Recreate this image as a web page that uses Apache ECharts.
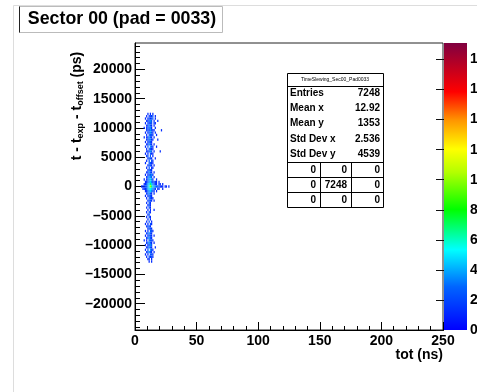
<!DOCTYPE html>
<html><head><meta charset="utf-8">
<script src="https://cdn.jsdelivr.net/npm/echarts@6/dist/echarts.min.js"></script>
<style>html,body{margin:0;padding:0;background:#fff}#c{width:477px;height:392px}</style>
</head><body><div id="c"></div>
<script>
// ---------- data ----------
const titleText = 'Sector 00 (pad = 0033)';
const xTitle = 'tot (ns)';
const xTicks = [0, 50, 100, 150, 200, 250];
const yTicks = [-20000, -15000, -10000, -5000, 0, 5000, 10000, 15000, 20000];
const zMax = 19.1;
const totStart = 4;      // tot (ns) of first column
const totStep = 1;       // ns per column
const yTop = 12400;      // y centre of first row (ps)
const yStep = 400;       // ps per row
// counts per cell (base-36 chars, '.' = 0), rows top to bottom, columns tot 4,5,6...
const cellRows = [
  "......1.1.1",
  ".....1.1212.1",
  "....1.12122.1",
  ".....11232.1..1",
  "....1.2122.11",
  ".....11321.1",
  "...1.12231..1",
  ".....1213211.....1",
  "....1.12321.1",
  ".....1.2221..1",
  "...1.11321.1",
  ".....122311...1",
  "....1.1221",
  ".....11321.1",
  "....1.2.321..1",
  ".....1.2211",
  ".....11232.1....1",
  "....1.1.211",
  ".....12.2.1",
  "......1221..1",
  ".....1.2.21",
  "....1..2211",
  "......1221.1",
  ".....1.2.11",
  "......1221",
  ".....11321.1",
  "....1.12231",
  ".....12332.1",
  "...1.123431..1",
  "....1123431211.1",
  "...11234643211.11.1",
  ".111223596433222111.11.1",
  "..11123454321.11..1",
  "....11234321.1",
  ".....12321.1",
  "....1.1221",
  ".....1.2211",
  "......1221.1",
  ".....1.21",
  "......121",
  ".....1.21",
  "......1.1..1",
  ".....1.21",
  "......12",
  ".....1.21",
  "......1.1",
  ".....1.2.1",
  "....1.1.21",
  ".....1221",
  "......1221",
  "....1.1.221",
  ".....12321",
  "....1.1221.1",
  ".....12321",
  "...1.1.2221",
  ".....12321.1",
  "....1.1232",
  ".....11321..1",
  "....1.2.321",
  ".....12321.1",
  "....1.1.221",
  ".....1.2121",
  "......11.1",
  ".......1.1"
];
const statsName = 'TimeSlewing_Sec00_Pad0033';
const statsLabels = ['Entries', 'Mean x', 'Mean y', 'Std Dev x', 'Std Dev y'];
const statsValues = ['7248', '12.92', '1353', '2.536', '4539'];
const overflowGrid = [['0', '0', '0'], ['0', '7248', '0'], ['0', '0', '0']];

// ---------- build ----------
const cells = [];
cellRows.forEach((row, i) => {
  for (let c = 0; c < row.length; c++) {
    const ch = row[c];
    if (ch === '.') continue;
    cells.push([totStart + c * totStep, yTop - i * yStep, parseInt(ch, 36)]);
  }
});

const FONT = '"Liberation Sans", Arial, Helvetica, sans-serif';
const paletteStops = [
  [0.00, '#0000ff'], [0.15, '#0064ff'], [0.28, '#00ffff'], [0.42, '#00ff00'],
  [0.55, '#b4ff00'], [0.63, '#ffff00'], [0.73, '#ff9600'], [0.83, '#ff0000'], [1.00, '#800040']
];
const minorY = [];
for (let v = -24000; v <= 24000; v += 1000) minorY.push(v);
const fmtNum = v => (v < 0 ? '\u2013' + Math.abs(v) : String(v));

const chart = echarts.init(document.getElementById('c'));

// stats box graphics
const SX = 287, SY = 73, SW = 96;
const statsEls = [];
statsEls.push({ type: 'rect', shape: { x: SX + 0.5, y: SY + 0.5, width: SW, height: 134 }, style: { fill: '#fff', stroke: '#000', lineWidth: 1 }, z: 100 });
statsEls.push({ type: 'text', x: SX + SW / 2, y: SY + 7, style: { text: statsName, font: '5px ' + FONT, fill: '#000', align: 'center', verticalAlign: 'middle' }, z: 101 });
statsEls.push({ type: 'line', shape: { x1: SX, y1: SY + 13.5, x2: SX + SW, y2: SY + 13.5 }, style: { stroke: '#000', lineWidth: 1 }, z: 101 });
const rowY = [93, 108, 123.5, 139, 154];
statsLabels.forEach((lab, k) => {
  statsEls.push({ type: 'text', x: SX + 3, y: rowY[k], style: { text: lab, font: 'bold 10px ' + FONT, fill: '#000', align: 'left', verticalAlign: 'middle' }, z: 101 });
  statsEls.push({ type: 'text', x: SX + SW - 3, y: rowY[k], style: { text: statsValues[k], font: 'bold 10px ' + FONT, fill: '#000', align: 'right', verticalAlign: 'middle' }, z: 101 });
});
const gLines = [162.5, 177.5, 192.5];
gLines.forEach(y => statsEls.push({ type: 'line', shape: { x1: SX, y1: y, x2: SX + SW, y2: y }, style: { stroke: '#000', lineWidth: 1 }, z: 101 }));
const colX = [320.5, 351.5];
colX.forEach(x => statsEls.push({ type: 'line', shape: { x1: x, y1: 162.5, x2: x, y2: 207.5 }, style: { stroke: '#000', lineWidth: 1 }, z: 101 }));
const cellRight = [316, 347, 380];
overflowGrid.forEach((r, ri) => r.forEach((t, ci) => {
  statsEls.push({ type: 'text', x: cellRight[ci], y: 170 + ri * 15, style: { text: t, font: 'bold 10px ' + FONT, fill: '#000', align: 'right', verticalAlign: 'middle' }, z: 101 });
}));

const option = {
  backgroundColor: '#fff',
  animation: false,
  grid: [
    { left: 135, top: 43, width: 308, height: 287, show: true, borderColor: '#222', borderWidth: 1, backgroundColor: 'transparent', containLabel: false, outerBoundsMode: 'none' },
    { left: 444, top: 43, width: 23, height: 287, show: true, borderWidth: 0, containLabel: false, outerBoundsMode: 'none',
      backgroundColor: new echarts.graphic.LinearGradient(0, 1, 0, 0, paletteStops.map(s => ({ offset: s[0], color: s[1] }))) }
  ],
  xAxis: [
    { gridIndex: 0, type: 'value', min: 0, max: 250, interval: 50,
      axisLine: { show: true, onZero: false, lineStyle: { color: '#000', width: 1 } },
      axisTick: { show: true, inside: true, length: 8, lineStyle: { color: '#000' } },
      minorTick: { show: true, splitNumber: 5, length: 4, lineStyle: { color: '#000' } },
      splitLine: { show: false },
      axisLabel: { show: true, margin: 4, color: '#000', fontSize: 14, fontWeight: 'bold', fontFamily: FONT, customValues: xTicks }
    },
    { gridIndex: 1, type: 'value', show: false, min: 0, max: 1 }
  ],
  yAxis: [
    { gridIndex: 0, type: 'value', min: -24500, max: 24500,
      axisLine: { show: true, onZero: false, lineStyle: { color: '#000', width: 1 } },
      axisTick: { show: true, inside: true, length: 10, customValues: yTicks, lineStyle: { color: '#000' } },
      splitLine: { show: false },
      axisLabel: { show: true, margin: 3, color: '#000', fontSize: 14, fontWeight: 'bold', fontFamily: FONT, customValues: yTicks, formatter: fmtNum }
    },
    { gridIndex: 0, type: 'value', min: -24500, max: 24500, position: 'left',
      axisLine: { show: false },
      axisTick: { show: true, inside: true, length: 5, customValues: minorY, lineStyle: { color: '#000' } },
      splitLine: { show: false },
      axisLabel: { show: false }
    },
    { gridIndex: 1, type: 'value', min: 0, max: zMax, interval: 2, position: 'right',
      axisLine: { show: false },
      axisTick: { show: true, inside: true, length: 8, lineStyle: { color: '#111' } },
      splitLine: { show: false },
      axisLabel: { show: true, margin: 3, color: '#000', fontSize: 14, fontWeight: 'bold', fontFamily: FONT, showMaxLabel: false }
    }
  ],
  visualMap: {
    type: 'continuous', show: false, min: 0, max: zMax, dimension: 2, seriesIndex: 0,
    inRange: { color: paletteStops.map(s => s[1]) }
  },
  series: [{
    type: 'custom',
    xAxisIndex: 0, yAxisIndex: 0,
    data: cells,
    encode: { x: 0, y: 1 },
    renderItem: function (params, api) {
      const x = api.value(0), y = api.value(1);
      const p0 = api.coord([x, y + yStep / 2]);
      const p1 = api.coord([x + totStep, y - yStep / 2]);
      return { type: 'rect', shape: { x: p0[0], y: p0[1], width: p1[0] - p0[0], height: p1[1] - p0[1] },
        style: { fill: api.visual('color') } };
    }
  }],
  graphic: [
    { type: 'line', shape: { x1: 13.5, y1: 5.5, x2: 477, y2: 5.5 }, style: { stroke: '#ddd', lineWidth: 1 } },
    { type: 'line', shape: { x1: 13.5, y1: 5.5, x2: 13.5, y2: 392 }, style: { stroke: '#ddd', lineWidth: 1 } },
    { type: 'rect', shape: { x: 19.5, y: 6.5, width: 203, height: 26 }, style: { fill: '#fff', stroke: '#bbb', lineWidth: 1 } },
    { type: 'line', shape: { x1: 19.5, y1: 6.5, x2: 19.5, y2: 32.5 }, style: { stroke: '#222', lineWidth: 1 } },
    { type: 'text', x: 122, y: 19.5, style: { text: titleText, font: 'bold 17.8px ' + FONT, fill: '#000', align: 'center', verticalAlign: 'middle' } },
    { type: 'text', x: 443, y: 355, style: { text: xTitle, font: 'bold 14px ' + FONT, fill: '#000', align: 'right', verticalAlign: 'middle' } },
    { type: 'text', x: 77, y: 106, rotation: Math.PI / 2,
      style: { text: 't - t{s|exp} - t{s|offset} (ps)', font: 'bold 14px ' + FONT, fill: '#000', align: 'center', verticalAlign: 'middle',
        rich: { s: { font: 'bold 9px ' + FONT, fill: '#000', padding: [8, 0, 0, 0] } } } },
    ...statsEls
  ]
};
chart.setOption(option);
</script></body></html>
